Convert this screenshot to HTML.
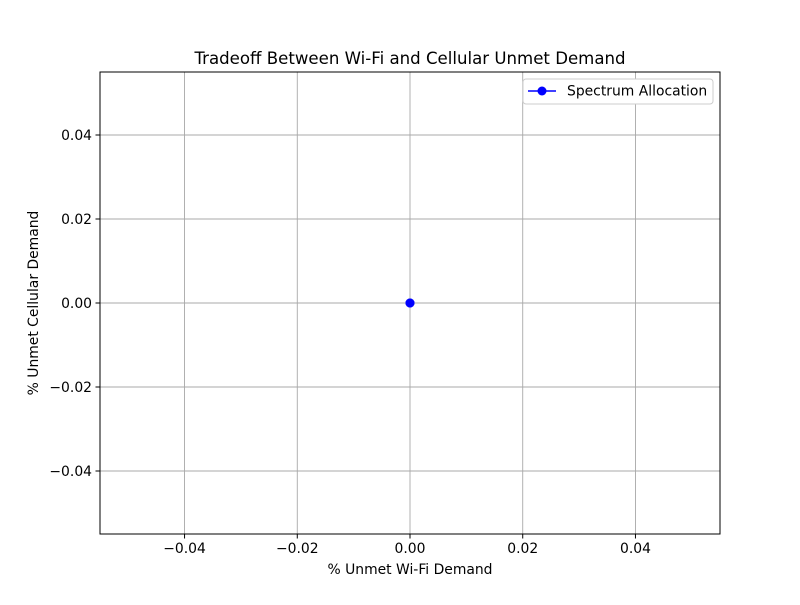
<!DOCTYPE html>
<html><head><meta charset="utf-8"><style>
body{margin:0;background:#fff;}
text{font-family:"DejaVu Sans","Liberation Sans",sans-serif;}
</style></head><body>
<svg id="chart" width="800" height="600" xmlns="http://www.w3.org/2000/svg">
<rect width="800" height="600" fill="#fff"/>
<g id="grid"></g>
<g id="xticks"></g>
<g id="yticks"></g>
<g id="series"></g>
<rect x="100" y="72" width="620" height="462" fill="none" stroke="#000" stroke-width="1"/>
<text x="410" y="64" font-size="16.6" text-anchor="middle">Tradeoff Between Wi-Fi and Cellular Unmet Demand</text>
<text x="410" y="574" font-size="13.9" text-anchor="middle">% Unmet Wi-Fi Demand</text>
<text transform="translate(38,303) rotate(-90)" font-size="13.9" text-anchor="middle">% Unmet Cellular Demand</text>
<g>
<rect x="523" y="79" width="190" height="25" rx="3" fill="#fff" stroke="#ccc"/>
<line x1="528" y1="91" x2="556" y2="91" stroke="#00f" stroke-width="1.5"/>
<circle cx="542" cy="91" r="4.5" fill="#00f"/>
<text x="567" y="95.5" font-size="13.9">Spectrum Allocation</text>
</g>
</svg>
<script>
const xTicks=[-0.04,-0.02,0.00,0.02,0.04];
const yTicks=[-0.04,-0.02,0.00,0.02,0.04];
const xTickLabels=["−0.04","−0.02","0.00","0.02","0.04"];
const yTickLabels=["−0.04","−0.02","0.00","0.02","0.04"];
const xValues=[0,0,0];
const yValues=[0,0,0];
const ns="http://www.w3.org/2000/svg";
const xmin=-0.055,xmax=0.055,ymin=-0.055,ymax=0.055;
function sx(v){return 100+(v-xmin)/(xmax-xmin)*620;}
function sy(v){return 534-(v-ymin)/(ymax-ymin)*462;}
function mk(tag,attrs,parent){const e=document.createElementNS(ns,tag);for(const k in attrs)e.setAttribute(k,attrs[k]);parent.appendChild(e);return e;}
const grid=document.getElementById('grid'),gx=document.getElementById('xticks'),gy=document.getElementById('yticks'),gs=document.getElementById('series');
xTicks.forEach((t,i)=>{const x=sx(t);
 let l=mk('line',{x1:x,x2:x,y1:72,y2:534,stroke:'#a8a8a8','stroke-width':0.9},grid);
 
 
 let tk=mk('line',{x1:x,x2:x,y1:534,y2:538.5,stroke:'#000'},gx);
 
 
 let tx=mk('text',{x:x,y:553,'font-size':13.9,'text-anchor':'middle'},gx);tx.textContent=xTickLabels[i];
 
 
});
yTicks.forEach((t,i)=>{const y=sy(t);
 let l=mk('line',{x1:100,x2:720,y1:y,y2:y,stroke:'#a8a8a8','stroke-width':0.9},grid);
 
 
 let tk=mk('line',{x1:95.5,x2:100,y1:y,y2:y,stroke:'#000'},gy);
 
 
 let tx=mk('text',{x:92,y:y+4.8,'font-size':13.9,'text-anchor':'end'},gy);tx.textContent=yTickLabels[i];
 
 
});
const pts=xValues.map((v,i)=>sx(v)+','+sy(yValues[i])).join(' ');
let pl=mk('polyline',{points:pts,fill:'none',stroke:'#00f','stroke-width':1.5},gs);


xValues.forEach((v,i)=>{let c=mk('circle',{cx:sx(v),cy:sy(yValues[i]),r:4.5,fill:'#00f'},gs);
 
 
});
</script>
</body></html>
